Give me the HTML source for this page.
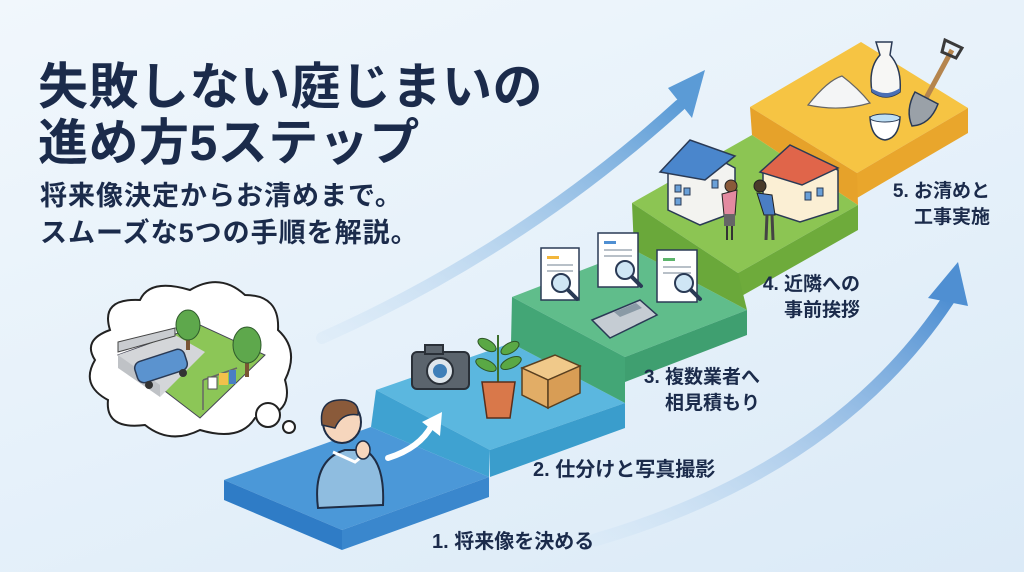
<!DOCTYPE html>
<html><head><meta charset="utf-8"><style>
html,body{margin:0;padding:0}
body{width:1024px;height:572px;overflow:hidden;background:linear-gradient(160deg,#f1f7fc 0%,#e6f1fa 50%,#dbeaf7 100%);font-family:"Liberation Sans","Noto Sans CJK JP",sans-serif;position:relative}
.t{position:absolute;color:#1b2b4b;font-weight:bold;white-space:nowrap}
svg{position:absolute;left:0;top:0}
</style></head><body>
<svg width="1024" height="572" viewBox="0 0 1024 572">
<defs>
<linearGradient id="a1" x1="0" y1="1" x2="1" y2="0"><stop offset="0" stop-color="#cfe3f5" stop-opacity="0.3"/><stop offset="1" stop-color="#5b9bd6"/></linearGradient>
<linearGradient id="a2" x1="0" y1="1" x2="1" y2="0"><stop offset="0" stop-color="#cfe3f5" stop-opacity="0.3"/><stop offset="1" stop-color="#4f8fd2"/></linearGradient>
</defs>
<path d="M322,338 Q520,250 680,105" fill="none" stroke="url(#a1)" stroke-width="12" stroke-linecap="round"/>
<polygon points="705,70 668,88 692,118" fill="#5b9bd6"/>
<path d="M595,540 Q835,470 948,300" fill="none" stroke="url(#a2)" stroke-width="13" stroke-linecap="round"/>
<polygon points="958,262 928,298 968,306" fill="#4f8fd2"/>

<polygon points="750,107 861,42 968,108 857,173" fill="#f6c443"/>
<polygon points="857,173 968,108 968,133 857,198" fill="#e9a62c"/>
<polygon points="632,203 752,135 858,205 738,273" fill="#8cc553"/>
<polygon points="738,273 858,205 858,230 738,298" fill="#6eab3b"/>
<polygon points="750,107 857,173 858,205 752,135" fill="#e6a22a"/>
<polygon points="512,297 634,250 747,310 625,357" fill="#60bd8b"/>
<polygon points="625,357 747,310 747,335 625,382" fill="#3f9f70"/>
<polygon points="632,203 738,273 747,310 634,250" fill="#6aa83a"/>
<polygon points="376,390 511,343 625,403 490,450" fill="#5bb7df"/>
<polygon points="490,450 625,403 625,428 490,477" fill="#3a9dcc"/>
<polygon points="512,297 625,357 625,403 511,343" fill="#43a676"/>
<polygon points="224,480 371,427 489,477 342,530" fill="#4b98d8"/>
<polygon points="224,480 342,530 342,550 224,500" fill="#2f7cc6"/>
<polygon points="342,530 489,477 489,497 342,550" fill="#3a87cd"/>
<polygon points="376,390 490,450 489,477 371,427" fill="#3fa2d1"/>

<path d="M110,330 Q100,298 140,300 Q150,278 190,290 Q220,272 245,295 Q280,295 278,330 Q300,350 285,380 Q295,415 255,418 Q240,442 200,430 Q170,445 145,425 Q105,430 108,400 Q80,385 95,360 Q82,340 110,330Z" fill="#fff" stroke="#222" stroke-width="2"/>
<circle cx="268" cy="415" r="12" fill="#fff" stroke="#222" stroke-width="2"/>
<circle cx="289" cy="427" r="6" fill="#fff" stroke="#222" stroke-width="2"/>
<polygon points="118,355 200,325 265,355 200,418" fill="#8cc657" stroke="#445" stroke-width="1"/>
<polygon points="118,355 175,335 205,352 160,397" fill="#d4d6d9"/>
<polygon points="118,355 118,368 160,397 160,385" fill="#bfc2c6"/>
<polygon points="118,342 175,328 175,336 118,352" fill="#c9ccd0" stroke="#444" stroke-width="1"/>
<rect x="135" y="355" width="52" height="22" rx="7" fill="#5b93cf" stroke="#2a3a55" stroke-width="1.5" transform="rotate(-18 161 366)"/>
<circle cx="149" cy="385" r="4" fill="#333"/><circle cx="183" cy="373" r="4" fill="#333"/>
<rect x="186" y="332" width="4" height="18" fill="#7a5533"/>
<ellipse cx="188" cy="325" rx="12" ry="15" fill="#5ea84c" stroke="#2f5a2c" stroke-width="1"/>
<rect x="245" y="355" width="4" height="22" fill="#7a5533"/>
<ellipse cx="247" cy="345" rx="14" ry="18" fill="#5ea84c" stroke="#2f5a2c" stroke-width="1"/>
<line x1="203" y1="380" x2="203" y2="410" stroke="#666" stroke-width="1.5"/>
<line x1="203" y1="380" x2="237" y2="368" stroke="#666" stroke-width="1.5"/>
<rect x="208" y="377" width="9" height="12" fill="#fff" stroke="#555" stroke-width="1"/>
<rect x="219" y="373" width="9" height="12" fill="#f2c14b"/>
<rect x="229" y="370" width="7" height="14" fill="#4a7ec4"/>

<path d="M318,508 Q312,460 345,450 L365,450 Q385,462 383,505 Z" fill="#8fbde0" stroke="#1f2d45" stroke-width="2"/>
<path d="M333,452 L355,462 L370,450" fill="none" stroke="#fff" stroke-width="3"/>
<ellipse cx="342" cy="422" rx="19" ry="21" fill="#f6d6bd" stroke="#1f2d45" stroke-width="2"/>
<path d="M322,425 Q318,398 345,400 Q360,402 358,415 Q342,412 335,428 Z" fill="#8a5a3a" stroke="#1f2d45" stroke-width="1.5"/>
<ellipse cx="363" cy="450" rx="7" ry="9" fill="#f6d6bd" stroke="#1f2d45" stroke-width="1.5"/>
<path d="M388,458 Q420,448 432,425" fill="none" stroke="#fff" stroke-width="6" stroke-linecap="round"/>
<polygon points="442,412 422,422 440,436" fill="#fff"/>

<rect x="412" y="352" width="57" height="37" rx="5" fill="#5b646d" stroke="#2a3038" stroke-width="2"/>
<rect x="425" y="345" width="18" height="9" fill="#5b646d" stroke="#2a3038" stroke-width="2"/>
<circle cx="440" cy="371" r="13" fill="#dfe6ec" stroke="#2a3038" stroke-width="2"/>
<circle cx="440" cy="371" r="7" fill="#3f7fb8"/>
<path d="M498,385 L498,335" stroke="#3d6e2c" stroke-width="2"/>
<ellipse cx="487" cy="345" rx="10" ry="5" fill="#5aa845" stroke="#2e5526" stroke-width="1" transform="rotate(30 487 345)"/>
<ellipse cx="510" cy="348" rx="10" ry="5" fill="#5aa845" stroke="#2e5526" stroke-width="1" transform="rotate(-30 510 348)"/>
<ellipse cx="486" cy="365" rx="11" ry="5" fill="#5aa845" stroke="#2e5526" stroke-width="1" transform="rotate(25 486 365)"/>
<ellipse cx="511" cy="363" rx="11" ry="5" fill="#5aa845" stroke="#2e5526" stroke-width="1" transform="rotate(-25 511 363)"/>
<polygon points="482,382 515,382 510,418 487,418" fill="#d9784a" stroke="#5a2e1a" stroke-width="1.5"/>
<polygon points="522,368 555,355 580,366 548,380" fill="#f0c98a" stroke="#5a4020" stroke-width="1.5"/>
<polygon points="522,368 548,380 548,408 522,395" fill="#e2ad66" stroke="#5a4020" stroke-width="1.5"/>
<polygon points="548,380 580,366 580,393 548,408" fill="#d89d55" stroke="#5a4020" stroke-width="1.5"/>

<g stroke="#2a3a55" stroke-width="1.5">
<rect x="541" y="248" width="38" height="52" fill="#fff"/>
<rect x="598" y="233" width="40" height="54" fill="#fff"/>
<rect x="657" y="250" width="40" height="52" fill="#fff"/>
</g>
<rect x="547" y="256" width="12" height="3" fill="#f2b63c"/>
<rect x="604" y="241" width="12" height="3" fill="#4f8fd2"/>
<rect x="663" y="258" width="12" height="3" fill="#5cb46a"/>
<g fill="#b8c0c8"><rect x="547" y="264" width="26" height="2"/><rect x="547" y="270" width="26" height="2"/><rect x="604" y="249" width="28" height="2"/><rect x="604" y="255" width="28" height="2"/><rect x="663" y="266" width="28" height="2"/><rect x="663" y="272" width="28" height="2"/></g>
<g fill="#cfe6f5" stroke="#2a3a55" stroke-width="2">
<circle cx="561" cy="283" r="9"/><circle cx="625" cy="270" r="9"/><circle cx="684" cy="283" r="9"/></g>
<g stroke="#2a3a55" stroke-width="4" stroke-linecap="round"><line x1="568" y1="290" x2="577" y2="299"/><line x1="632" y1="277" x2="641" y2="286"/><line x1="691" y1="290" x2="700" y2="299"/></g>
<polygon points="592,320 640,300 657,315 610,338" fill="#c5ccd3" stroke="#2a3a55" stroke-width="1.5"/>
<polygon points="614,312 636,303 642,308 620,317" fill="#8a9aa6"/>
<polygon points="668,172 705,152 735,168 735,212 700,225 668,210" fill="#f3f3f0" stroke="#2a3a55" stroke-width="1.5"/>
<polygon points="660,172 690,140 735,156 705,180" fill="#4a86cc" stroke="#2a3a55" stroke-width="1.5"/>
<g fill="#6aa0d8" stroke="#2a3a55" stroke-width="1"><rect x="675" y="185" width="6" height="7"/><rect x="684" y="188" width="6" height="7"/><rect x="675" y="198" width="6" height="7"/><rect x="712" y="180" width="6" height="8"/></g>
<polygon points="763,172 800,155 838,170 838,210 800,222 763,210" fill="#fbefd4" stroke="#2a3a55" stroke-width="1.5"/>
<polygon points="760,172 790,145 838,168 802,185" fill="#e0654a" stroke="#2a3a55" stroke-width="1.5"/>
<g fill="#6aa0d8" stroke="#2a3a55" stroke-width="1"><rect x="805" y="192" width="6" height="8"/><rect x="817" y="188" width="6" height="8"/></g>
<circle cx="731" cy="186" r="6" fill="#8a5a3a" stroke="#222" stroke-width="1"/>
<path d="M722,194 L737,190 L735,215 L724,215 Z" fill="#e38aa0" stroke="#222" stroke-width="1"/>
<rect x="724" y="214" width="11" height="12" fill="#666"/>
<line x1="727" y1="226" x2="727" y2="240" stroke="#333" stroke-width="2"/><line x1="732" y1="226" x2="732" y2="240" stroke="#333" stroke-width="2"/>
<circle cx="760" cy="186" r="6" fill="#4a3a2a" stroke="#222" stroke-width="1"/>
<path d="M757,193 L772,195 L775,215 L764,215 Z" fill="#4a7ec4" stroke="#222" stroke-width="1"/>
<line x1="767" y1="215" x2="766" y2="240" stroke="#444" stroke-width="3"/><line x1="772" y1="215" x2="773" y2="240" stroke="#444" stroke-width="3"/>
<path d="M808,105 Q828,80 842,76 Q858,88 870,103 Q840,112 808,105Z" fill="#f4f5f6" stroke="#666" stroke-width="1.2"/>
<path d="M876,42 L892,42 L890,55 Q902,68 900,92 Q886,102 872,92 Q868,68 880,55 Z" fill="#f7f7f5" stroke="#2a3a55" stroke-width="1.5"/>
<path d="M871,88 Q886,98 900,88 L900,92 Q886,102 872,92Z" fill="#4a6fb5"/>
<path d="M870,117 L900,117 Q899,138 885,140 Q871,138 870,117Z" fill="#fff" stroke="#2a3a55" stroke-width="1.5"/>
<ellipse cx="885" cy="118" rx="15" ry="4" fill="#bfe0f5" stroke="#2a3a55" stroke-width="1"/>
<line x1="952" y1="50" x2="925" y2="100" stroke="#b5854e" stroke-width="5"/>
<path d="M945,40 L962,48 L956,58 L942,52Z" fill="none" stroke="#3a3a3a" stroke-width="3"/>
<path d="M915,92 L938,104 Q930,125 912,126 Q905,110 915,92Z" fill="#9aa1a8" stroke="#2a3a55" stroke-width="1.5"/>
</svg>

<div class="t" style="left:38px;top:47px;font-size:50px;letter-spacing:0.5px">失敗しない庭じまいの</div>
<div class="t" style="left:38px;top:103px;font-size:50px;letter-spacing:0.5px">進め方5ステップ</div>
<div class="t" style="left:40px;top:174px;font-size:27px;letter-spacing:1px">将来像決定からお清めまで。</div>
<div class="t" style="left:40px;top:211px;font-size:27px;letter-spacing:1px">スムーズな5つの手順を解説。</div>

<div class="t" style="left:432px;top:525px;font-size:20px">1. 将来像を決める</div>
<div class="t" style="left:533px;top:453px;font-size:20px">2. 仕分けと写真撮影</div>
<div class="t" style="left:640px;top:365px;font-size:19px;width:120px;text-align:right;line-height:26px">3. 複数業者へ<br>相見積もり</div>
<div class="t" style="left:750px;top:272px;font-size:19px;width:110px;text-align:right;line-height:26px">4. 近隣への<br>事前挨拶</div>
<div class="t" style="left:880px;top:179px;font-size:19px;width:110px;text-align:right;line-height:26px">5. お清めと<br>工事実施</div>
</body></html>
